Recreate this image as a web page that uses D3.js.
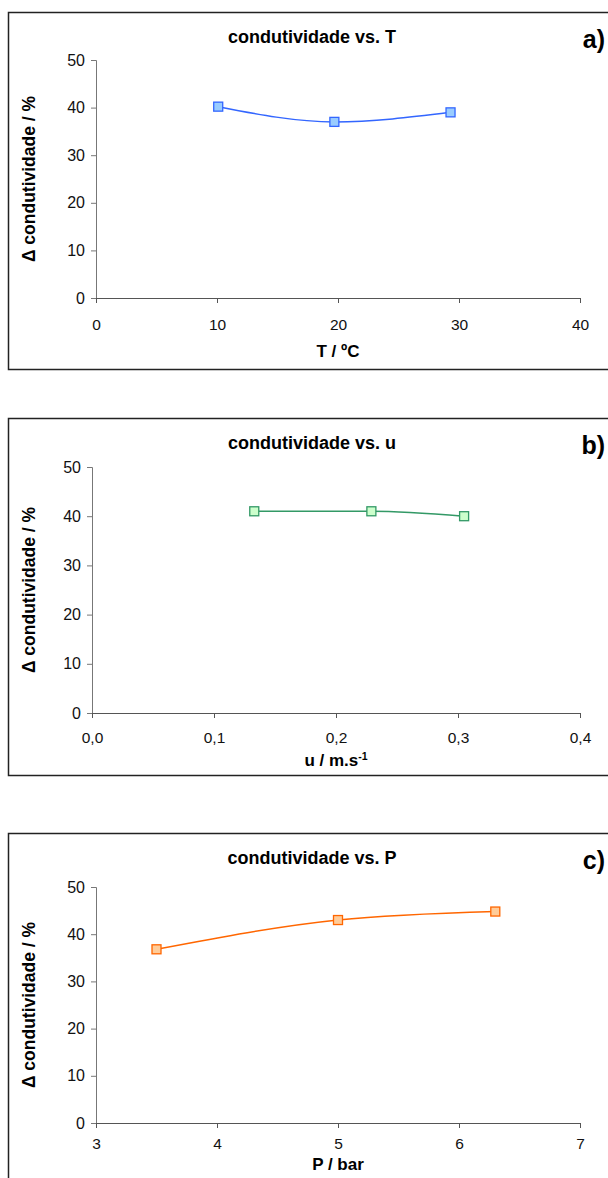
<!DOCTYPE html>
<html>
<head>
<meta charset="utf-8">
<script src="https://cdn.jsdelivr.net/npm/d3@7"></script>
<style>
  body { margin: 0; background: #fff; }
  svg { display: block; font-family: "Liberation Sans", Arial, sans-serif; }
</style>
</head>
<body>
<div id="chart"></div>
<script>
// data
const tempX = [10.1, 19.7, 29.3];
const tempY = [40.2, 37.0, 39.0];
const velX = [0.133, 0.229, 0.305];
const velY = [41.0, 41.0, 40.0];
const pressX = [3.5, 5.0, 6.3];
const pressY = [36.8, 43.0, 44.8];

// ticks
const yTicks = [0, 10, 20, 30, 40, 50];
const tempTicks = [0, 10, 20, 30, 40];
const velTicks = [0, 0.1, 0.2, 0.3, 0.4];
const pressTicks = [3, 4, 5, 6, 7];

const W = 608, H = 1178;
const FONT = '"Liberation Sans", Arial, sans-serif';

const svg = d3.select('#chart')
    .append('svg')
    .attr('width', W)
    .attr('height', H);

// one panel = frame + title + axes + smoothed line with square markers
const drawPanel = (cfg) => {
    const g = svg.append('g');

    // frame (right side runs off the page like in the scan)
    g.append('rect')
        .attr('x', 8.5)
        .attr('y', cfg.frameTop + 0.5)
        .attr('width', 610)
        .attr('height', 357)
        .attr('fill', 'none')
        .attr('stroke', '#222')
        .attr('stroke-width', 1.5);

    const x = d3.scaleLinear()
        .domain(cfg.xDomain)
        .range([cfg.left, 580]);

    const y = d3.scaleLinear()
        .domain([0, 50])
        .range([cfg.bottom, cfg.top]);

    // title and panel letter
    g.append('text')
        .attr('x', 312)
        .attr('y', cfg.frameTop + 31)
        .attr('text-anchor', 'middle')
        .style('font-size', '18px')
        .style('font-weight', 'bold')
        .text(cfg.title);

    g.append('text')
        .attr('x', 605)
        .attr('y', cfg.frameTop + 36)
        .attr('text-anchor', 'end')
        .style('font-size', '25px')
        .style('font-weight', 'bold')
        .text(cfg.letter);

    // y axis
    const yAxis = g.append('g')
        .attr('transform', `translate(${cfg.left},0)`)
        .call(d3.axisLeft(y).tickValues(yTicks).tickSize(5).tickPadding(6).tickFormat(d3.format('d')));
    yAxis.selectAll('path, line').style('stroke', '#777');
    yAxis.selectAll('text').style('font-size', '16px').style('fill', '#111').style('font-family', FONT);

    // x axis
    const xAxis = g.append('g')
        .attr('transform', `translate(0,${cfg.bottom})`)
        .call(d3.axisBottom(x).tickValues(cfg.xTicks).tickSize(5).tickPadding(cfg.tickPad).tickFormat(cfg.fmt));
    xAxis.selectAll('path, line').style('stroke', '#555');
    xAxis.selectAll('text').style('font-size', '15.5px').style('fill', '#111').style('font-family', FONT);

    // axis titles
    g.append('text')
        .attr('transform', `translate(35,${(cfg.top + cfg.bottom) / 2}) rotate(-90)`)
        .attr('text-anchor', 'middle')
        .style('font-size', '17.5px')
        .style('font-weight', 'bold')
        .text('Δ condutividade / %');

    const xt = g.append('text')
        .attr('x', (cfg.left + 580) / 2)
        .attr('y', cfg.xTitleY)
        .attr('text-anchor', 'middle')
        .style('font-size', '17px')
        .style('font-weight', 'bold')
        .text(cfg.xTitle);
    if (cfg.xSup) {
        xt.append('tspan')
            .attr('dy', -6)
            .style('font-size', '10.5px')
            .text(cfg.xSup);
    }

    const pts = cfg.xs.map((v, i) => [v, cfg.ys[i]]);

    const line = d3.line()
        .x(d => x(d[0]))
        .y(d => y(d[1]))
        .curve(d3.curveMonotoneX);

    g.append('path')
        .datum(pts)
        .attr('d', line)
        .attr('fill', 'none')
        .attr('stroke', cfg.color)
        .attr('stroke-width', 1.5);

    g.selectAll('rect.mk')
        .data(pts)
        .enter()
        .append('rect')
        .attr('class', 'mk')
        .attr('x', d => x(d[0]) - 4.5)
        .attr('y', d => y(d[1]) - 4.5)
        .attr('width', 9)
        .attr('height', 9)
        .attr('fill', cfg.fill)
        .attr('stroke', cfg.color)
        .attr('stroke-width', 1.3);
};

const comma = d => d3.format('.1f')(d).replace('.', ',');

drawPanel({
    frameTop: 12, left: 96, top: 60, bottom: 298, tickPad: 16,
    xDomain: [0, 40], xTicks: tempTicks, fmt: d3.format('d'),
    title: 'condutividade vs. T', letter: 'a)',
    xTitle: 'T / ºC', xTitleY: 357,
    xs: tempX, ys: tempY, color: '#3366ff', fill: '#99ccff'
});

drawPanel({
    frameTop: 418, left: 92, top: 467, bottom: 713, tickPad: 14,
    xDomain: [0, 0.4], xTicks: velTicks, fmt: comma,
    title: 'condutividade vs. u', letter: 'b)',
    xTitle: 'u / m.s', xSup: '-1', xTitleY: 766,
    xs: velX, ys: velY, color: '#339966', fill: '#ccffcc'
});

drawPanel({
    frameTop: 833, left: 96, top: 887, bottom: 1123, tickPad: 10,
    xDomain: [3, 7], xTicks: pressTicks, fmt: d3.format('d'),
    title: 'condutividade vs. P', letter: 'c)',
    xTitle: 'P / bar', xTitleY: 1170,
    xs: pressX, ys: pressY, color: '#ff6600', fill: '#ffcc99'
});
</script>
</body>
</html>
